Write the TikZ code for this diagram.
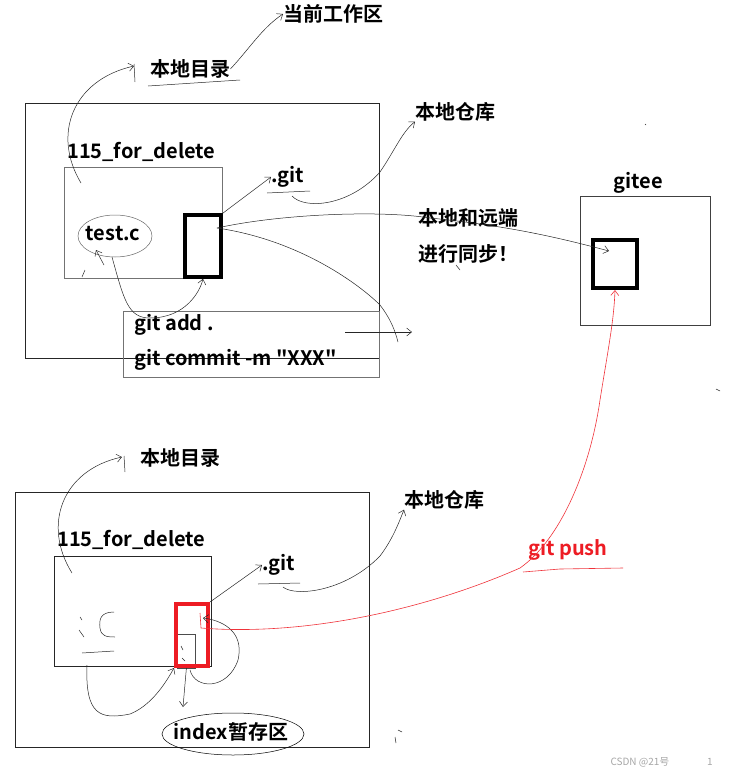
\documentclass[tikz,border=0pt]{standalone}
\usepackage{fontspec}
\setmainfont{Noto Sans CJK SC}[BoldFont={Noto Sans CJK SC Bold}]
\newfontfamily\cmdfont{Noto Sans CJK SC}[BoldFont={Noto Sans CJK SC Bold}]
\usetikzlibrary{arrows.meta, positioning, shapes.geometric, calc}
\definecolor{penred}{RGB}{237,28,36}

\begin{document}
\begin{tikzpicture}[x=1pt,y=-1pt,
  lbl/.style={font=\bfseries\fontsize{20}{24}\selectfont, inner sep=0pt, anchor=west},
  pen/.style={draw=black!85, line width=0.5pt},
  tip/.style={-{Straight Barb[length=5pt,width=8pt]}},
  box/.style={draw=black!85, line width=0.8pt, inner sep=0pt, anchor=north west},
  graybox/.style={box, draw=black!55},
  redpen/.style={draw=penred!90, line width=0.6pt}]
\useasboundingbox (0,0) rectangle (729,774);

% ---- upper sketch: local side ----
\node[lbl] (cwd) at (283,14) {当前工作区};
\node[lbl] (dirA) at (150,69) {本地目录};
\draw[pen] (148,86) -- (240,80);
\draw[pen,tip] (dirA.east) .. controls (250,48) and (262,28) .. (cwd.west);

\node[box, minimum width=354pt, minimum height=255pt] (outerA) at (25,103) {};
\node[lbl] (folderlblA) at (67,152) {115\_for\_delete};
\node[graybox, minimum width=158pt, minimum height=111pt] (folderA) at (64,167) {};
\node[draw=black, line width=3.5pt, minimum width=36pt, minimum height=62pt, inner sep=0pt] (repoA) at (203,246) {};
\node[font=\bfseries\fontsize{20}{24}\selectfont, inner sep=0pt] (testc) at (113,234) {test.c};
\draw[draw=black!60, line width=0.5pt] (115,236) ellipse (37 and 21);
\node[graybox, minimum width=256pt, minimum height=66pt] (cmdA) at (123,311) {};
\node[lbl] (addA) at (134,325) {\cmdfont git add .};
\node[lbl] (commitA) at (134,360) {\cmdfont git commit -m "XXX"};

\node[lbl] (gitA) at (271,177) {.git};
\draw[pen] (267,193) -- (310,191);
\node[lbl] (repolblA) at (415,112) {本地仓库};
\node[lbl] (syncA) at (418,218) {本地和远端};
\node[lbl] (syncB) at (418,254) {进行同步！};

% remote side
\node[font=\bfseries\fontsize{20}{24}\selectfont, inner sep=0pt] (giteelbl) at (638,183) {gitee};
\node[graybox, draw=black!75, minimum width=130pt, minimum height=129pt] (gitee) at (580,196) {};
\node[draw=black, line width=4pt, minimum width=44pt, minimum height=48pt, inner sep=0pt] (remote) at (615,264) {};

\coordinate (dirstartA) at (81,183);
\coordinate (repoinA) at (217,228);
\coordinate (gitulA) at (292,196);
\coordinate (remotein) at (609,251);
\coordinate (loopendA) at (398,342);

\draw[pen,tip] (dirstartA) .. controls (52,135) and (72,80) .. (134,66);
\draw[pen] (134,64) -- (135,82);
\draw[pen,tip] (repoA.north east) -- (gitA.west);
\draw[pen,tip] (gitulA) .. controls (305,210) and (350,206) .. (380,172) .. controls (395,150) and (402,132) .. (repolblA.south west);
\draw[pen,tip] (repoinA) .. controls (280,214) and (380,210) .. (430,218) .. controls (510,226) and (560,238) .. (remotein);
\draw[pen] (repoinA) .. controls (300,240) and (360,285) .. (380,305) .. controls (390,318) and (395,330) .. (loopendA);
\draw[pen,tip] (345,332) -- (412,332);
\draw[pen,tip] (112,257) .. controls (124,300) and (128,318) .. (150,318) .. controls (185,318) and (200,292) .. (repoA.south);
\draw[pen,tip] (104,265) -- (96,250);
\draw[pen] (82,277) -- (85,270);

% ---- lower sketch: after staging ----
\node[lbl] (dirB) at (140,458) {本地目录};
\node[box, minimum width=354pt, minimum height=255pt] (outerB) at (15,492) {};
\node[lbl] (folderlblB) at (57,540) {115\_for\_delete};
\node[box, minimum width=157pt, minimum height=110pt] (folderB) at (54,556) {};
\node[box, draw=black!70, minimum width=18pt, minimum height=34pt] (stage) at (177,634) {};
\node[draw=penred, line width=4pt, minimum width=32pt, minimum height=62pt, inner sep=0pt] (redB) at (192,635) {};
\node[lbl] (gitB) at (262,565) {.git};
\draw[pen] (258,584) -- (300,583);
\node[lbl] (repolblB) at (404,500) {本地仓库};
\node[font=\bfseries\fontsize{20}{24}\selectfont, inner sep=0pt] (index) at (231,732) {index暂存区};
\draw[draw=black, line width=0.5pt] (233,734) ellipse (71 and 21);
\node[font=\bfseries\fontsize{20}{24}\selectfont, text=penred, inner sep=0pt] (push) at (568,550) {git push};
\draw[redpen] (523,572) -- (560,569) -- (623,568);

% erased file marks
\draw[pen] (114,612) .. controls (100,612) and (99,620) .. (100,628) .. controls (101,636) and (106,637) .. (115,637);
\draw[pen] (82,653) -- (114,651);
\draw[pen] (80,617) -- (82,620);
\draw[pen] (79,630) -- (84,637);
\draw[pen] (181,646) -- (183,650);
\draw[pen] (182,658) -- (185,661);

\coordinate (dirstartB) at (72,573);
\coordinate (gitulB) at (283,587);
\coordinate (folderbot) at (87,665);
\coordinate (loopstart) at (190,670);
\coordinate (redstart) at (201,628);

\draw[pen,tip] (dirstartB) .. controls (42,525) and (62,470) .. (122,457);
\draw[pen] (124,456) -- (125,472);
\draw[pen,tip] (redB.north east) -- (gitB.west);
\draw[pen,tip] (gitulB) .. controls (295,597) and (345,592) .. (380,556) .. controls (392,540) and (398,525) .. (repolblB.south west);
\draw[pen,tip] (folderbot) .. controls (85,715) and (100,720) .. (130,714) .. controls (150,706) and (164,686) .. (redB.south west);
\draw[pen,tip] (redB.south -| stage.center) -- (183,707);
\draw[pen,tip] (loopstart) .. controls (195,690) and (228,690) .. (238,660) .. controls (245,630) and (220,620) .. (203,618);
\draw[redpen] (200,613) -- (redstart);
\draw[redpen,tip] (redstart) .. controls (300,636) and (420,612) .. (520,568) .. controls (560,540) and (590,470) .. (600,400) .. controls (608,350) and (614,320) .. (remote.south);

% stray pen marks
\draw[pen] (456,265) -- (460,270);
\draw[pen] (645,124) -- (646,125);
\draw[pen] (716,389) -- (720,391);
\draw[pen] (395,737) -- (396,743);
\draw[pen] (398,730) -- (402,732);

\node[text=black!35, font=\fontsize{10}{12}\selectfont, inner sep=0pt] (mark) at (640,762) {CSDN @21号};
\node[text=black!35, font=\fontsize{10}{12}\selectfont, inner sep=0pt] (pageno) at (710,762) {1};
\end{tikzpicture}
\end{document}
